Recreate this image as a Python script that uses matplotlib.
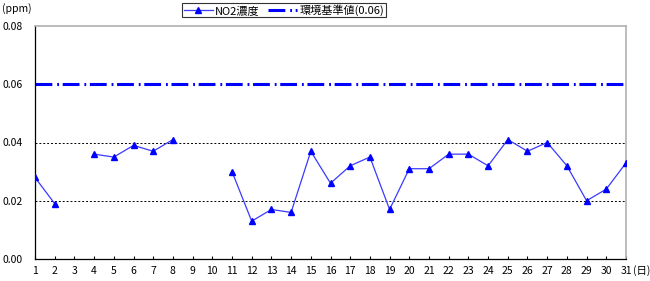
import numpy as np
import matplotlib
matplotlib.use('Agg')
import matplotlib.pyplot as plt

plt.rcParams['font.family'] = ['Noto Sans CJK JP', 'DejaVu Sans']

# daily NO2 concentration (ppm), days 3, 9, 10 missing
days = list(range(1, 32))
no2 = [0.028, 0.019, np.nan, 0.036, 0.035, 0.039, 0.037, 0.041, np.nan, np.nan,
       0.030, 0.013, 0.017, 0.016, 0.037, 0.026, 0.032, 0.035, 0.017, 0.031,
       0.031, 0.036, 0.036, 0.032, 0.041, 0.037, 0.040, 0.032, 0.020, 0.024,
       0.033]
standard = 0.06
y_ticks = [0.00, 0.02, 0.04, 0.06, 0.08]

fig = plt.figure(figsize=(6.5, 2.81), dpi=100)
ax = fig.add_axes([35 / 650, 22 / 281, 591 / 650, 233 / 281])

# dotted grid lines
for v in [0.02, 0.04]:
    ax.axhline(v, color='black', linestyle=(0, (2, 2)), linewidth=0.7, zorder=1)

ax.plot(days, no2, color='#3a3aff', linewidth=0.9, marker='^', markersize=4.5,
        markerfacecolor='blue', markeredgecolor='blue', label='NO2濃度', zorder=3)
ax.plot([days[0], days[-1]], [standard, standard], color='blue', linewidth=2.2,
        linestyle=(0, (5.5, 1.6, 0.6, 1.2)), label='環境基準値(0.06)', zorder=2)

ax.set_xlim(1, 31)
ax.set_ylim(0, 0.08)
ax.set_xticks(days)
ax.set_xticklabels([str(d) for d in days])
ax.set_yticks(y_ticks)
ax.set_yticklabels(['%.2f' % v for v in y_ticks])
ax.tick_params(axis='x', direction='in', length=2, labelsize=7.5, pad=5)
ax.tick_params(axis='y', length=0, labelsize=7.5, pad=9)

for s in ['top', 'right']:
    ax.spines[s].set_color('#b0b0b0')
    ax.spines[s].set_linewidth(1.2)
for s in ['left', 'bottom']:
    ax.spines[s].set_color('black')
    ax.spines[s].set_linewidth(0.9)

fig.text(2 / 650, 1 - 9 / 281, '(ppm)', fontsize=7.5, va='center', ha='left')
fig.text(633 / 650, 1 - 271 / 281, '(日)', fontsize=7.5, va='center', ha='left')

leg = fig.legend(loc='center', bbox_to_anchor=(284 / 650, 1 - 10 / 281), ncol=2,
                 fontsize=8, frameon=True, fancybox=False, edgecolor='black',
                 handlelength=2.6, handletextpad=0.2, columnspacing=0.8,
                 borderpad=0.15, borderaxespad=0)
leg.get_frame().set_linewidth(0.8)

fig.savefig('out.png', dpi=100)
